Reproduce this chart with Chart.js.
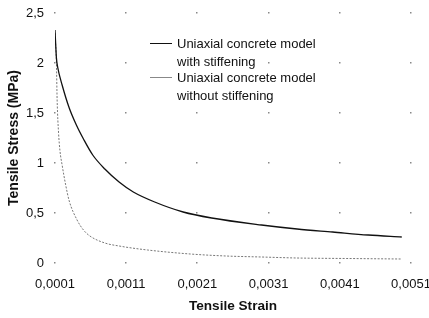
<!DOCTYPE html>
<html>
<head>
<meta charset="utf-8">
<script src="https://cdn.jsdelivr.net/npm/chart.js@4/dist/chart.umd.min.js"></script>
<style>
  body { margin: 0; background: #fff; }
  #wrap { position: relative; width: 429px; height: 318px; }
  .legend { position: absolute; left: 150px; font: 13px "Liberation Sans", Arial, sans-serif; color: #111; line-height: 17.5px; }
  .legend .row { position: relative; padding-left: 27px; }
  .legend .swatch { position: absolute; left: 0; top: 8px; width: 22px; height: 0; border-top: 1.3px solid #111; }
</style>
</head>
<body>
<div id="wrap">
  <canvas id="chart" width="429" height="318"></canvas>
  <div class="legend" style="top:35px">
    <div class="row"><span class="swatch"></span>Uniaxial concrete model<br>with stiffening</div>
  </div>
  <div class="legend" style="top:69px">
    <div class="row"><span class="swatch" style="border-top:1px solid #888"></span>Uniaxial concrete model<br>without stiffening</div>
  </div>
</div>
<script>
//Values (strain, stress in MPa)
const strainWith = [0.0001, 0.00012, 0.00014, 0.0002, 0.0003, 0.0004, 0.0005, 0.00063, 0.0008, 0.001, 0.0012, 0.0015, 0.0019, 0.0023, 0.003, 0.0035, 0.004, 0.0045, 0.00497];
const stressWith = [2.33, 2.05, 1.95, 1.78, 1.55, 1.38, 1.24, 1.08, 0.94, 0.81, 0.71, 0.61, 0.51, 0.45, 0.38, 0.34, 0.31, 0.28, 0.26];

const strainWithout = [0.0001, 0.00012, 0.00013, 0.00015, 0.00017, 0.0002, 0.00025, 0.0003, 0.00041, 0.0005, 0.00059, 0.0008, 0.001, 0.0014, 0.002, 0.0025, 0.003, 0.0035, 0.0042, 0.00497];
const stressWithout = [2.3, 2.0, 1.63, 1.3, 1.12, 0.98, 0.78, 0.62, 0.43, 0.33, 0.27, 0.2, 0.17, 0.13, 0.09, 0.07, 0.06, 0.05, 0.045, 0.04];

const xTicks = [0.0001, 0.0011, 0.0021, 0.0031, 0.0041, 0.0051];
const yTicks = [0, 0.5, 1, 1.5, 2, 2.5];

function toPoints(xs, ys) {
    return xs.map((x, i) => ({x: x, y: ys[i]}));
}

//Draws the small dots at every tick crossing
const gridDots = {
    id: 'gridDots',
    beforeDatasetsDraw(chart) {
        const ctx = chart.ctx;
        const xs = chart.scales.x, ys = chart.scales.y;
        ctx.save();
        ctx.fillStyle = '#888';
        for (const xv of xTicks) {
            for (const yv of yTicks) {
                ctx.fillRect(Math.round(xs.getPixelForValue(xv)) - 1, Math.round(ys.getPixelForValue(yv)) - 1, 1.5, 1.5);
            }
        }
        ctx.restore();
    }
};

const font = {family: '"Liberation Sans", Arial, sans-serif', size: 13};
const comma = v => String(v).replace('.', ',');

new Chart(document.getElementById('chart'), {
    type: 'scatter',
    data: {
        datasets: [
            {
                label: 'Uniaxial concrete model with stiffening',
                data: toPoints(strainWith, stressWith),
                showLine: true,
                borderColor: '#111',
                borderWidth: 1.3,
                pointRadius: 0,
                cubicInterpolationMode: 'monotone'
            },
            {
                label: 'Uniaxial concrete model without stiffening',
                data: toPoints(strainWithout, stressWithout),
                showLine: true,
                borderColor: '#777',
                borderWidth: 1,
                borderDash: [2, 1.5],
                pointRadius: 0,
                cubicInterpolationMode: 'monotone'
            }
        ]
    },
    options: {
        responsive: false,
        animation: false,
        layout: {padding: {top: 13, right: 18, left: 0, bottom: 0}},
        plugins: {legend: {display: false}, tooltip: {enabled: false}},
        scales: {
            x: {
                type: 'linear',
                min: 0.0001,
                max: 0.0051,
                afterBuildTicks: s => { s.ticks = xTicks.map(v => ({value: v})); },
                afterFit: s => { s.height = 55; s.paddingLeft = 0; s.paddingRight = 0; },
                grid: {display: false},
                border: {display: false},
                ticks: {color: '#111', font: font, padding: 6, maxRotation: 0,
                    callback: v => v.toFixed(4).replace('.', ',')},
                title: {display: true, text: 'Tensile Strain', color: '#111',
                    font: {family: font.family, size: 13.6, weight: 'bold'}, padding: {top: 5}}
            },
            y: {
                min: 0,
                max: 2.5,
                afterBuildTicks: s => { s.ticks = yTicks.map(v => ({value: v})); },
                afterFit: s => { s.width = 55; s.paddingTop = 0; s.paddingBottom = 0; },
                grid: {display: false, drawTicks: false},
                border: {display: false},
                ticks: {color: '#111', font: font, padding: 11, callback: v => comma(v)},
                title: {display: true, text: 'Tensile Stress (MPa)', color: '#111',
                    font: {family: font.family, size: 14, weight: 'bold'}, padding: {top: 6, bottom: 0}}
            }
        }
    },
    plugins: [gridDots]
});
</script>
</body>
</html>
